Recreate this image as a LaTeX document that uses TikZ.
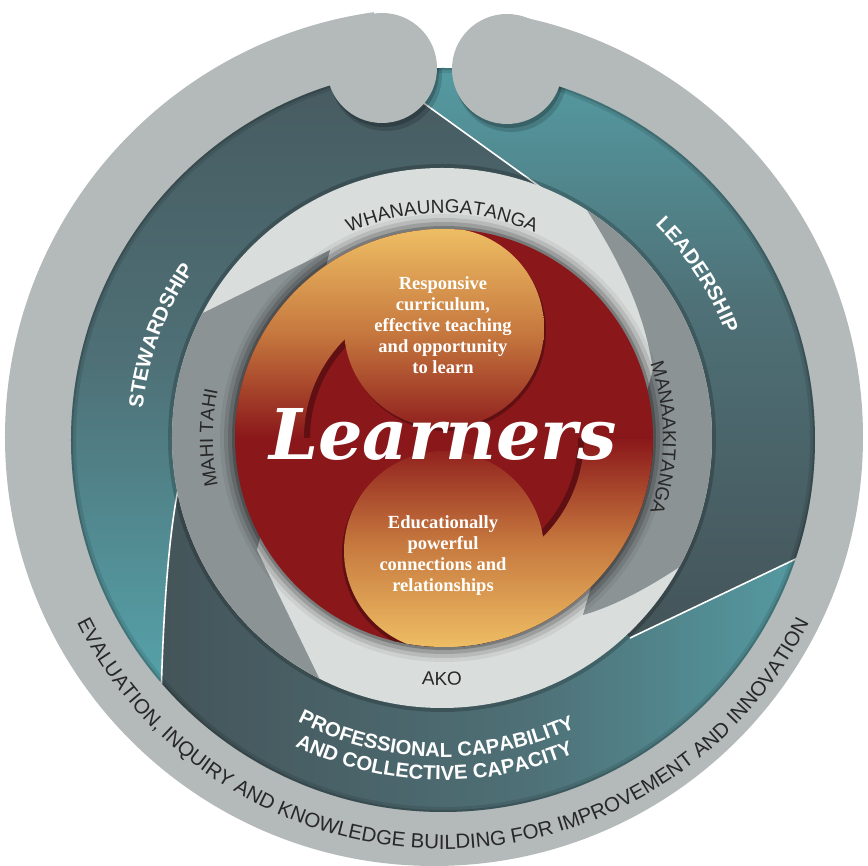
\documentclass[tikz,border=0pt]{standalone}
\usepackage{fontspec}
\newfontfamily\labelfont{Liberation Sans}
\newfontfamily\lobefont{Liberation Serif}
\newfontfamily\learnfont{DejaVu Serif}
\usetikzlibrary{decorations.text}

\definecolor{ringgray}{RGB}{180,185,185}
\definecolor{slatedark}{RGB}{68,84,89}
\definecolor{slatemid}{RGB}{78,112,118}
\definecolor{tealband}{RGB}{87,170,178}
\definecolor{valuelight}{RGB}{217,221,220}
\definecolor{valuemid}{RGB}{140,147,149}
\definecolor{learnred}{RGB}{138,23,26}
\definecolor{learnmid}{RGB}{198,120,62}
\definecolor{learngold}{RGB}{238,190,100}
\definecolor{labelink}{RGB}{40,40,40}

\tikzset{
  splitline/.style={white,line width=1.6pt},
  bandtext/.style={decorate,decoration={text along path,text align=center,text color=white,
      text={|\labelfont\bfseries\fontsize{20.3}{20.3}\selectfont|#1}}},
  valuetext/.style={decorate,decoration={text along path,text align=center,text color=labelink,
      text={|\labelfont\fontsize{19}{19}\selectfont|#1}}},
  outertext/.style={decorate,decoration={text along path,text align=center,text color=labelink,
      text={|\labelfont\fontsize{20.5}{20.5}\selectfont|#1}}},
  lobetext/.style={align=center,text=white,font=\lobefont\fontsize{18.5}{21}\selectfont\bfseries},
}

\begin{document}
\begin{tikzpicture}[x=1pt,y=1pt]
	\useasboundingbox (-443,-426) rectangle (425,440);
	% Outer ring with the gap between the knobs
	\fill[ringgray] (-9,3) circle (429);
	\fill[white] (-9,3) -- (93,519) -- (-82,520) -- cycle;
	% Three swirling bands
	\begin{scope}
		\clip (0,0) circle (372);
		\shade[top color=slatedark,bottom color=tealband,middle color=slatemid]
			(0,0) -- (100,251) -- (-50,359) -- (-60,460) -- (-460,460) -- (-460,-300) -- (-285,-300)
			-- (-282,-260) .. controls (-280,-180) and (-275,-100) .. (-265,-50) -- cycle;
		\shade[top color=tealband,bottom color=slatedark,middle color=slatemid]
			(0,0) -- (100,251) -- (-50,359) -- (-60,460) -- (460,460) -- (460,-100)
			-- (380,-106) -- (187,-198) -- cycle;
		\shade[left color=slatedark,right color=tealband,middle color=slatemid]
			(0,0) -- (-265,-50) .. controls (-275,-100) and (-280,-180) .. (-282,-260)
			-- (-290,-460) -- (460,-460) -- (460,-100) -- (380,-106) -- (187,-198) -- cycle;
		\draw[splitline] (-50,359) -- (100,251);
		\draw[splitline] (380,-106) -- (187,-198);
		\draw[splitline] (-265,-50) .. controls (-275,-100) and (-280,-180) .. (-282,-260);
		% shadows of the outer ring and knobs
		\draw[black,opacity=0.10,line width=10pt] (0,0) circle (372);
		\draw[black,opacity=0.15,line width=4pt] (0,0) circle (372);
		\fill[black,opacity=0.15] (-57,365) circle (56);
		\fill[black,opacity=0.2] (-59,368) circle (55);
		\fill[black,opacity=0.15] (68,364) circle (56);
		\fill[black,opacity=0.2] (66,367) circle (55);
	\end{scope}
	\fill[ringgray] (-61,372) circle (55);
	\fill[ringgray] (64,371) circle (55);

	% Values ring
	\fill[black,opacity=0.2] (-1,2) circle (274);
	\fill[valuelight] (-1,2) circle (270);
	\begin{scope}
		\clip (-1,2) circle (270);
		\fill[valuemid] (-113,190) -- (-367,64) -- (-420,64) -- (-420,-330) -- (-90,-308) -- (-186,-110) -- cycle;
		\fill[valuemid] (140,-175) .. controls (175,-165) and (210,-145) .. (247,-120) -- (340,-58) -- (420,-58)
			-- (420,350) -- (88,322) -- (127,255) .. controls (165,200) and (200,140) .. (210,70) -- cycle;
	\end{scope}

	% Learners disk
	\foreach \r/\o in {224/0.06,220/0.10,216/0.15,212/0.22}
		\fill[black,opacity=\o] (1,2) circle (\r);
	\fill[learnred] (1,2) circle (209);
	\begin{scope}
		\clip (1,2) circle (209);
		% soft shadows under the two swirls
		\begin{scope}[transparency group,opacity=0.3]
			\fill[black] (3,109) circle (100);
			\fill[black] (1,211) -- (1,136) arc[start angle=90,end angle=180,radius=134] -- (-208,2)
				arc[start angle=180,end angle=90,radius=209] -- cycle;
			\fill[black] (-1,-114) circle (100);
			\fill[black] (1,-207) -- (1,-132) arc[start angle=270,end angle=360,radius=134] -- (210,2)
				arc[start angle=0,end angle=-90,radius=209] -- cycle;
		\end{scope}
		\begin{scope}
			\clip (1,112) circle (100);
			\shade[top color=learngold,bottom color=learnred,middle color=learnmid] (-210,2) rectangle (212,212);
		\end{scope}
		\begin{scope}
			\clip (1,211) -- (1,142) arc[start angle=90,end angle=180,radius=140] -- (-208,2)
				arc[start angle=180,end angle=90,radius=209] -- cycle;
			\shade[top color=learngold,bottom color=learnred,middle color=learnmid] (-210,2) rectangle (212,212);
		\end{scope}
		\begin{scope}
			\clip (1,-111) circle (100);
			\shade[top color=learnred,bottom color=learngold,middle color=learnmid] (-210,-208) rectangle (212,2);
		\end{scope}
		\begin{scope}
			\clip (1,-207) -- (1,-138) arc[start angle=270,end angle=360,radius=140] -- (210,2)
				arc[start angle=0,end angle=-90,radius=209] -- cycle;
			\shade[top color=learnred,bottom color=learngold,middle color=learnmid] (-210,-208) rectangle (212,2);
		\end{scope}
	\end{scope}

	% Labels
	\node[lobetext] (topLobeText) at (0,115) {Responsive\\curriculum,\\effective teaching\\and opportunity\\to learn};
	\node[lobetext] (bottomLobeText) at (0,-116) {Educationally\\powerful\\connections and\\relationships};
	\node[font=\learnfont\fontsize{70}{70}\selectfont\bfseries\itshape,text=white,anchor=base] (learners) at (0,-20) {Learners};

	\begin{scope}[shift={(-1,2)}]
		\path[valuetext=WHANAUNGATANGA] (150:225) arc[start angle=150,end angle=30,radius=225];
		\path[valuetext={MAHI TAHI}] (230:229) arc[start angle=230,end angle=130,radius=229];
		\path[valuetext=MANAAKITANGA] (50:221) arc[start angle=50,end angle=-50,radius=221];
		\path[valuetext=AKO] (210:247) arc[start angle=210,end angle=330,radius=247];
	\end{scope}

	\path[bandtext=STEWARDSHIP] (219.75:302) arc[start angle=219.75,end angle=99.75,radius=302];
	\path[bandtext=LEADERSHIP] (93:302) arc[start angle=93,end angle=-27,radius=302];
	\path[bandtext={PROFESSIONAL CAPABILITY}] (208.7:317) arc[start angle=208.7,end angle=328.7,radius=317];
	\path[bandtext={AND COLLECTIVE CAPACITY}] (208.4:340) arc[start angle=208.4,end angle=328.4,radius=340];
	\path[outertext={EVALUATION, INQUIRY AND KNOWLEDGE BUILDING FOR IMPROVEMENT AND INNOVATION}]
		(190:409) arc[start angle=190,end angle=350,radius=409];
\end{tikzpicture}
\end{document}
